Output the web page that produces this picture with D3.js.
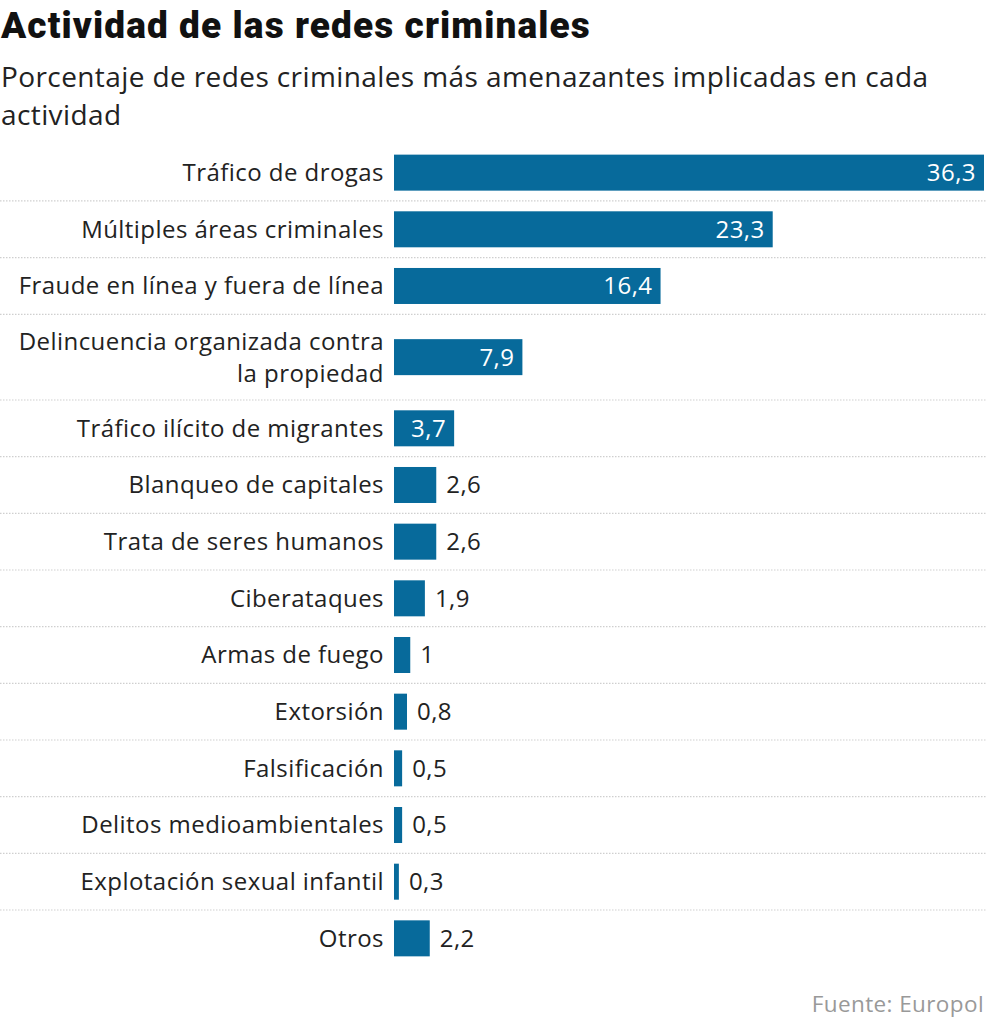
<!DOCTYPE html>
<html>
<head>
<meta charset="utf-8">
<script src="https://cdn.jsdelivr.net/npm/d3@7"></script>
<style>
  body { margin: 0; background: #fff; }
  svg { display: block; font-family: "Open Sans", Roboto, sans-serif; }
</style>
</head>
<body>
<div id="chart"></div>
<script>
// data
const categories = [
  "Tráfico de drogas",
  "Múltiples áreas criminales",
  "Fraude en línea y fuera de línea",
  "Delincuencia organizada contra\nla propiedad",
  "Tráfico ilícito de migrantes",
  "Blanqueo de capitales",
  "Trata de seres humanos",
  "Ciberataques",
  "Armas de fuego",
  "Extorsión",
  "Falsificación",
  "Delitos medioambientales",
  "Explotación sexual infantil",
  "Otros"
];
const values = [36.3, 23.3, 16.4, 7.9, 3.7, 2.6, 2.6, 1.9, 1, 0.8, 0.5, 0.5, 0.3, 2.2];

const title = "Actividad de las redes criminales";
const subtitle = ["Porcentaje de redes criminales más amenazantes implicadas en cada", "actividad"];
const source = "Fuente: Europol";

const width = 986, height = 1024;
const topY = 144.3, rowH = 56.67, lineH = 29;
const barH = 36;
const barColor = "#076a9b";

const fmt = d3.formatLocale({ decimal: ",", thousands: "." }).format(".1~f");

const rows = categories.map((c, i) => ({ name: c, value: values[i], lines: c.split("\n") }));
let acc = topY;
rows.forEach(r => {
  r.y0 = acc;
  r.h = rowH + (r.lines.length - 1) * lineH;
  acc += r.h;
  r.cy = r.y0 + r.h / 2;
});

const x = d3.scaleLinear().domain([0, d3.max(values)]).range([394, 984]);
const y = d3.scaleOrdinal().domain(categories).range(rows.map(r => r.cy));

const svg = d3.select("#chart").append("svg")
  .attr("width", width)
  .attr("height", height);

svg.append("text")
  .attr("x", 1).attr("y", 38)
  .attr("font-family", "Roboto, sans-serif")
  .attr("font-size", 37).attr("font-weight", 900)
  .attr("fill", "#111")
  .attr("letter-spacing", 1.1)
  .text(title);

svg.append("g").selectAll("text")
  .data(subtitle)
  .join("text")
  .attr("x", 1).attr("y", (d, i) => 87 + i * 38)
  .attr("font-size", 28)
  .attr("letter-spacing", 0.4)
  .attr("fill", "#222")
  .text(d => d);

// separators
svg.append("g").selectAll("line")
  .data(rows.slice(0, -1))
  .join("line")
  .attr("x1", 0).attr("x2", width)
  .attr("y1", d => d.y0 + d.h).attr("y2", d => d.y0 + d.h)
  .attr("stroke", "#cfcfcf")
  .attr("stroke-width", 1.2)
  .attr("stroke-dasharray", "1.5,1.5");

// labels
const lab = svg.append("g").selectAll("text")
  .data(rows)
  .join("text")
  .attr("text-anchor", "end")
  .attr("font-size", 24)
  .attr("letter-spacing", 0.45)
  .attr("fill", "#222");
lab.selectAll("tspan")
  .data(d => d.lines.map((l, i) => ({ l, i, n: d.lines.length, cy: y(d.name) })))
  .join("tspan")
  .attr("x", 384)
  .attr("y", d => d.cy + (d.i - (d.n - 1) / 2) * 32)
  .attr("dy", "0.35em")
  .text(d => d.l);

// bars
svg.append("g").selectAll("rect")
  .data(rows)
  .join("rect")
  .attr("x", x(0))
  .attr("y", d => y(d.name) - barH / 2)
  .attr("width", d => x(d.value) - x(0))
  .attr("height", barH)
  .attr("fill", barColor);

// values
svg.append("g").selectAll("text")
  .data(rows)
  .join("text")
  .attr("font-size", 24)
  .attr("letter-spacing", 0.45)
  .attr("y", d => y(d.name))
  .attr("dy", "0.35em")
  .each(function (d) {
    const inside = d.value >= 3.5;
    d3.select(this)
      .attr("x", inside ? x(d.value) - 8 : x(d.value) + 10)
      .attr("text-anchor", inside ? "end" : "start")
      .attr("fill", inside ? "#fff" : "#222");
  })
  .text(d => fmt(d.value));

svg.append("text")
  .attr("x", 984).attr("y", 1012)
  .attr("text-anchor", "end")
  .attr("font-size", 22.5)
  .attr("letter-spacing", 0.4)
  .attr("fill", "#999")
  .text(source);
</script>
</body>
</html>
